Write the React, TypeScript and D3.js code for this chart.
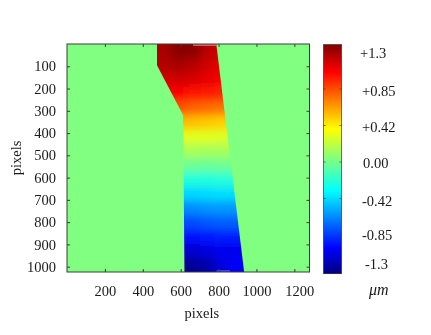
import React, { useEffect, useRef } from "react";
import * as d3 from "d3";

const xTicks = [200, 400, 600, 800, 1000, 1200];
const yTicks = [100, 200, 300, 400, 500, 600, 700, 800, 900, 1000];
const xMax = 1280;
const yMax = 1024;

// outline of the measured region, in image pixels
const outlineX = [475, 788, 935, 620, 613, 475];
const outlineY = [0, 0, 1024, 1024, 320, 95];

// height map, rows top to bottom, columns left to right (um)
const heightRows = [
  [1.2, 1.28, 1.27, 1.16, 1.1, 1.1],
  [1.18, 1.2, 1.17, 1.1, 1.05, 1.05],
  [1.1, 1.1, 1.08, 1.04, 1.0, 1.0],
  [1.0, 0.98, 0.94, 0.92, 0.9, 0.9],
  [0.82, 0.78, 0.74, 0.72, 0.7, 0.7],
  [0.52, 0.52, 0.5, 0.48, 0.46, 0.46],
  [0.27, 0.27, 0.26, 0.26, 0.25, 0.25],
  [0.11, 0.11, 0.11, 0.1, 0.1, 0.1],
  [-0.05, -0.05, -0.05, -0.06, -0.05, -0.05],
  [-0.26, -0.26, -0.26, -0.26, -0.25, -0.25],
  [-0.46, -0.46, -0.46, -0.45, -0.44, -0.44],
  [-0.66, -0.66, -0.65, -0.63, -0.62, -0.62],
  [-0.82, -0.82, -0.82, -0.79, -0.77, -0.77],
  [-0.97, -0.97, -0.97, -0.95, -0.93, -0.93],
  [-1.12, -1.12, -1.11, -1.08, -1.05, -1.05],
  [-1.27, -1.27, -1.25, -1.2, -1.08, -1.02],
];

const backgroundValue = 0;
const colorStops = [-1.3, -1.01, -0.36, 0, 0.34, 0.99, 1.3];
const colorRange = ["#00007f", "#0000ff", "#00ffff", "#80ff80", "#ffff00", "#ff0000", "#7f0000"];

const barLabels = ["+1.3", "+0.85", "+0.42", "0.00", "-0.42", "-0.85", "-1.3"];
const barTicks = [0.85, 0.42, 0, -0.42, -0.85];

const FONT = "'Liberation Serif', serif";
const FRAME = "#3c3c3c";

const plot = { left: 67, right: 309.5, top: 44, bottom: 272 };
const bar = { left: 323.5, right: 341.5, top: 44.5, bottom: 273.5 };

// the bar labels were placed by hand in the original, so they get their own spots
const barLabelPos = [53.5, 91.5, 127, 163, 201, 235, 264];
const barLabelLeft = [360, 362, 362, 363, 362, 362, 365];

const x = d3.scaleLinear().domain([0, xMax]).range([plot.left, plot.right]);
const y = d3.scaleLinear().domain([0, yMax]).range([plot.top, plot.bottom]);
const color = d3.scaleLinear<string>().domain(colorStops).range(colorRange).clamp(true);
const rowBand = d3.scaleBand<number>().domain(d3.range(heightRows.length)).range([y(0), y(yMax)]);
const colBand = d3
  .scaleBand<number>()
  .domain(d3.range(heightRows[0].length))
  .range([x(475), x(935)]);
const barY = d3.scaleLinear().domain([1.3, -1.3]).range([bar.top, bar.bottom]);
// the printed ticks are evenly spaced, a little off the value scale
const barTickY = d3.scalePoint<number>().domain(barTicks).range([89, 235]);

const outline = outlineX.map((d, i) => `${x(d)},${y(outlineY[i])}`).join(" ");
const BLEED = 20;

const App = () => {
  const axesRef = useRef<SVGGElement>(null);

  useEffect(() => {
    const g = d3.select(axesRef.current);
    g.selectAll("*").remove();

    const bottom = g
      .append("g")
      .attr("transform", `translate(0,${plot.bottom})`)
      .call(d3.axisBottom(x).tickValues(xTicks).tickFormat(d3.format("d")).tickSize(-3).tickPadding(14));
    const left = g
      .append("g")
      .attr("transform", `translate(${plot.left},0)`)
      .call(d3.axisLeft(y).tickValues(yTicks).tickFormat(d3.format("d")).tickSize(-3).tickPadding(11));
    const top = g
      .append("g")
      .attr("transform", `translate(0,${plot.top})`)
      .call(d3.axisTop(x).tickValues(xTicks).tickFormat(() => "").tickSize(-3));
    const right = g
      .append("g")
      .attr("transform", `translate(${plot.right},0)`)
      .call(d3.axisRight(y).tickValues(yTicks).tickFormat(() => "").tickSize(-3));

    [bottom, left, top, right].forEach((a) => {
      a.select(".domain").remove();
      a.selectAll("line").attr("stroke", FRAME);
      a.selectAll("text").attr("font-family", FONT).attr("font-size", 14.5).attr("fill", "#1a1a1a");
    });
    // last x label sits to the right of its tick in the original
    bottom.selectAll<SVGTextElement, number>("text").attr("dx", (d) => (d === 1200 ? 5 : 0));
  }, []);

  return (
    <svg
      width={431}
      height={335}
      style={{ position: "absolute", left: 0, top: 0, filter: "blur(0.35px)" }}
    >
      <defs>
        <clipPath id="region">
          <polygon points={outline} />
        </clipPath>
        <filter id="soft" filterUnits="userSpaceOnUse" x={100} y={0} width={200} height={335}>
          <feGaussianBlur stdDeviation={4} />
        </filter>
      </defs>
      <rect width={431} height={335} fill="#fff" />

      <rect
        x={plot.left}
        y={plot.top}
        width={plot.right - plot.left}
        height={plot.bottom - plot.top}
        fill={color(backgroundValue)}
      />
      <g clipPath="url(#region)">
        <g filter="url(#soft)">
          {heightRows.map((row, i) =>
            row.map((v, j) => {
              const first = i === 0;
              const last = i === heightRows.length - 1;
              const edgeL = j === 0;
              const edgeR = j === row.length - 1;
              return (
                <rect
                  key={`${i}-${j}`}
                  x={colBand(j)! - (edgeL ? BLEED : 0)}
                  y={rowBand(i)! - (first ? BLEED : 0)}
                  width={colBand.bandwidth() + 0.5 + (edgeL || edgeR ? BLEED : 0)}
                  height={rowBand.bandwidth() + 0.5 + (first || last ? BLEED : 0)}
                  fill={color(v)}
                />
              );
            })
          )}
        </g>
      </g>

      {/* pale scraps where the region stops just short of the frame */}
      <line x1={x(665)} x2={x(788)} y1={plot.top + 1} y2={plot.top + 1} stroke="#e8c8b8" />
      <line x1={x(790)} x2={x(860)} y1={plot.bottom - 1} y2={plot.bottom - 1} stroke="#8a80c8" />

      <rect
        x={plot.left}
        y={plot.top}
        width={plot.right - plot.left}
        height={plot.bottom - plot.top}
        fill="none"
        stroke={FRAME}
      />
      <g ref={axesRef} />

      <text x={x(712)} y={318} textAnchor="middle" fontFamily={FONT} fontSize={14.5} fill="#1a1a1a">
        pixels
      </text>
      <text
        transform="translate(21,158) rotate(-90)"
        textAnchor="middle"
        fontFamily={FONT}
        fontSize={14.5}
        fill="#1a1a1a"
      >
        pixels
      </text>

      {d3.range(bar.top, bar.bottom, 1).map((py) => (
        <rect
          key={py}
          x={bar.left}
          y={py}
          width={bar.right - bar.left}
          height={1.5}
          fill={color(barY.invert(py + 0.5))}
        />
      ))}
      <rect
        x={bar.left}
        y={bar.top}
        width={bar.right - bar.left}
        height={bar.bottom - bar.top}
        fill="none"
        stroke={FRAME}
        strokeOpacity={0.7}
      />
      {barTicks.map((t) => (
        <g key={t} stroke={FRAME} strokeOpacity={0.7}>
          <line x1={bar.left} x2={bar.left + 2} y1={barTickY(t)} y2={barTickY(t)} />
          <line x1={bar.right - 2} x2={bar.right} y1={barTickY(t)} y2={barTickY(t)} />
        </g>
      ))}
      {barLabels.map((d, i) => (
        <text
          key={d}
          x={barLabelLeft[i]}
          y={barLabelPos[i]}
          dy="0.32em"
          fontFamily={FONT}
          fontSize={14.5}
          fill="#1a1a1a"
        >
          {d}
        </text>
      ))}
      <text x={369} y={295} fontFamily={FONT} fontSize={16} fontStyle="italic" fill="#1a1a1a">
        μm
      </text>
    </svg>
  );
};

export default App;
